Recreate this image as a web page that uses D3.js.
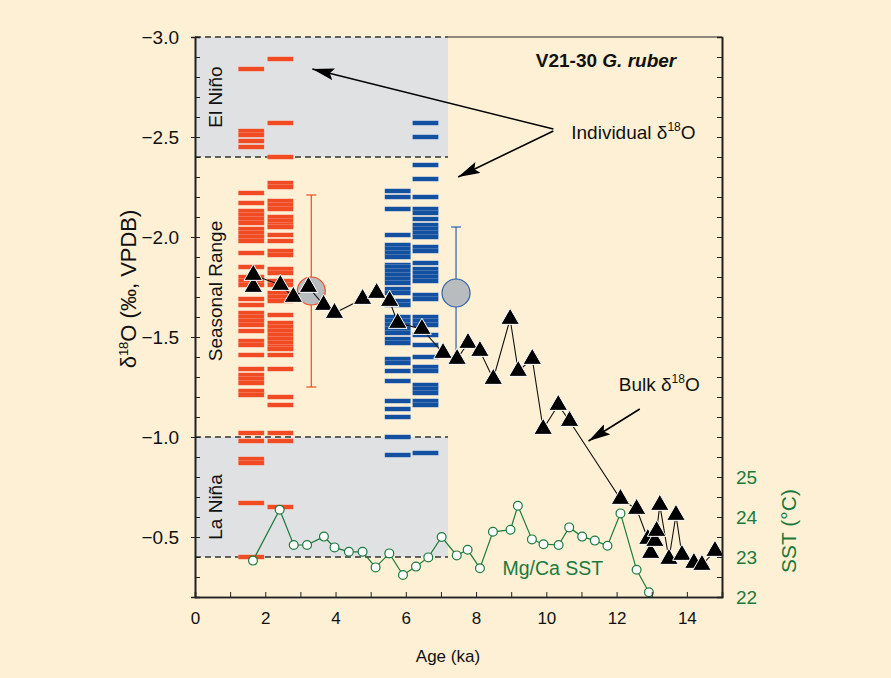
<!DOCTYPE html>
<html>
<head>
<meta charset="utf-8">
<script src="https://cdn.jsdelivr.net/npm/d3@7"></script>
<style>
  body { margin: 0; background: #fef0d4; }
  text { font-family: "Liberation Sans", Arial, sans-serif; }
</style>
</head>
<body>
<div id="chart"></div>
<script>
// Chart data
// Individual foram d18O values, one array per sample column
var redColA = [-2.84, -2.53, -2.51, -2.48, -2.45, -2.22, -2.17, -2.13, -2.11, -2.09, -2.07,
  -2.04, -2.02, -2.00, -1.98, -1.92, -1.85, -1.80, -1.78, -1.76, -1.69, -1.66, -1.62, -1.60,
  -1.58, -1.56, -1.53, -1.48, -1.46, -1.41, -1.34, -1.31, -1.29, -1.27, -1.23, -1.21, -1.02,
  -0.98, -0.89, -0.87, -0.67, -0.40];
var redColB = [-2.89, -2.57, -2.40, -2.27, -2.25, -2.18, -2.16, -2.14, -2.10, -2.08, -2.06,
  -2.05, -2.01, -1.98, -1.93, -1.91, -1.84, -1.82, -1.78, -1.76, -1.72, -1.70, -1.68, -1.61,
  -1.57, -1.55, -1.53, -1.51, -1.49, -1.47, -1.45, -1.44, -1.41, -1.34, -1.20, -1.16, -1.02,
  -0.98, -0.65];
var blueColA = [-2.23, -2.20, -2.14, -2.01, -1.96, -1.94, -1.92, -1.90, -1.86, -1.85, -1.83,
  -1.81, -1.79, -1.77, -1.74, -1.72, -1.68, -1.66, -1.60, -1.58, -1.56, -1.54, -1.52, -1.49,
  -1.47, -1.39, -1.37, -1.33, -1.28, -1.18, -1.14, -1.10, -1.00, -0.91];
var blueColB = [-2.57, -2.50, -2.36, -2.29, -2.20, -2.14, -2.12, -2.09, -2.06, -2.04, -2.02,
  -2.00, -1.95, -1.93, -1.87, -1.84, -1.82, -1.80, -1.78, -1.71, -1.69, -1.60, -1.58, -1.56,
  -1.51, -1.46, -1.40, -1.35, -1.33, -1.26, -1.24, -1.22, -1.18, -1.16, -0.92];
// sample ages (ka) of the four individual columns
var colAges = [1.6, 2.43, 5.77, 6.56];

// mean +/- range of individual values
var errAges = [3.31, 7.43];
var errMeans = [-1.73, -1.72];
var errLow = [-2.21, -2.05];
var errHigh = [-1.25, -1.38];

// Bulk d18O
var bulkAge = [1.66, 1.66, 2.43, 2.80, 3.23, 3.66, 3.97, 4.77, 5.17, 5.54, 5.77, 6.46, 7.06,
  7.46, 7.77, 8.11, 8.49, 8.97, 9.20, 9.60, 9.91, 10.34, 10.66, 12.11, 12.57, 12.89, 12.97,
  13.09, 13.14, 13.23, 13.49, 13.69, 13.86, 14.20, 14.43, 14.80];
var bulkD18O = [-1.75, -1.81, -1.76, -1.70, -1.75, -1.66, -1.62, -1.69, -1.72, -1.68, -1.57,
  -1.54, -1.42, -1.39, -1.47, -1.43, -1.29, -1.59, -1.33, -1.39, -1.04, -1.16, -1.08, -0.69,
  -0.64, -0.49, -0.42, -0.48, -0.53, -0.66, -0.39, -0.61, -0.41, -0.37, -0.36, -0.43];

// Mg/Ca SST
var sstAge = [1.65, 2.41, 2.81, 3.19, 3.67, 3.97, 4.38, 4.77, 5.14, 5.53, 5.92, 6.29, 6.64,
  7.02, 7.45, 7.76, 8.11, 8.48, 8.98, 9.19, 9.59, 9.92, 10.35, 10.65, 11.02, 11.38, 11.74,
  12.11, 12.57, 12.92];
var sstVal = [22.91, 24.18, 23.30, 23.30, 23.51, 23.24, 23.13, 23.13, 22.74, 23.09, 22.55,
  22.76, 22.99, 23.50, 23.04, 23.18, 22.72, 23.63, 23.68, 24.28, 23.44, 23.32, 23.30, 23.74,
  23.51, 23.41, 23.28, 24.09, 22.68, 22.12];

var xTicks = [0, 2, 4, 6, 8, 10, 12, 14];
var yTicks = [-3.0, -2.5, -2.0, -1.5, -1.0, -0.5];
var sstTicks = [22, 23, 24, 25];

// ENSO bands
var elNino = [-3.0, -2.4];
var laNina = [-1.0, -0.4];
var bandEnd = 7.2;

// SVG area
var svgWidth = 891;
var svgHeight = 678;
var margin = { top: 37, right: 169, bottom: 81, left: 195 };
var width = svgWidth - margin.left - margin.right;
var height = svgHeight - margin.top - margin.bottom;

var red = "#f04b22";
var blue = "#1450a0";
var green = "#1b7a3c";

var svg = d3.select("#chart").append("svg")
  .attr("width", svgWidth)
  .attr("height", svgHeight);

svg.append("rect")
  .attr("width", svgWidth).attr("height", svgHeight)
  .attr("fill", "#fef0d4");

var defs = svg.append("defs");
defs.append("marker")
  .attr("id", "head")
  .attr("viewBox", "0 0 22 12")
  .attr("refX", 22).attr("refY", 6)
  .attr("markerWidth", 22).attr("markerHeight", 12)
  .attr("markerUnits", "userSpaceOnUse")
  .attr("orient", "auto")
  .append("path")
  .attr("d", "M0,0 L22,6 L0,12 L4,6 Z")
  .attr("fill", "#000");

var g = svg.append("g")
  .attr("transform", `translate(${margin.left}, ${margin.top})`);

var x = d3.scaleLinear().domain([0, 15]).range([0, width]);
var y = d3.scaleLinear().domain([-3.0, -0.2]).range([0, height]);
var ySst = d3.scaleLinear().domain([22, 36]).range([height, 0]);

// grey ENSO bands
[elNino, laNina].forEach(function(b) {
  g.append("rect")
    .attr("x", x(0)).attr("y", y(b[0]))
    .attr("width", x(bandEnd) - x(0))
    .attr("height", y(b[1]) - y(b[0]))
    .attr("fill", "#dfe1e2");
});

// dashed band edges
[-3.0, -2.4, -1.0, -0.4].forEach(function(v) {
  g.append("line")
    .attr("x1", x(0)).attr("x2", x(bandEnd))
    .attr("y1", y(v)).attr("y2", y(v))
    .attr("stroke", "#333").attr("stroke-width", 1.5)
    .attr("stroke-dasharray", "6,4");
});

// individual d18O dashes
var colWidth = 0.74;
var cols = [
  { age: colAges[0], vals: redColA, color: red },
  { age: colAges[1], vals: redColB, color: red },
  { age: colAges[2], vals: blueColA, color: blue },
  { age: colAges[3], vals: blueColB, color: blue }
];
cols.forEach(function(c) {
  g.append("g").selectAll("rect")
    .data(c.vals)
    .enter()
    .append("rect")
    .attr("x", x(c.age - colWidth / 2))
    .attr("y", d => y(d) - 2.3)
    .attr("width", x(colWidth) - x(0))
    .attr("height", 4.6)
    .attr("fill", c.color)
    .attr("stroke", "rgba(255,255,255,0.35)")
    .attr("stroke-width", 0.6);
});

// error bars with mean circles
var errColors = [red, "#2d62aa"];
errAges.forEach(function(a, i) {
  var eg = g.append("g").attr("stroke", errColors[i]).attr("stroke-width", 1.2);
  eg.append("line")
    .attr("x1", x(a)).attr("x2", x(a))
    .attr("y1", y(errLow[i])).attr("y2", y(errHigh[i]));
  [errLow[i], errHigh[i]].forEach(function(v) {
    eg.append("line")
      .attr("x1", x(a) - 5).attr("x2", x(a) + 5)
      .attr("y1", y(v)).attr("y2", y(v));
  });
  eg.append("circle")
    .attr("cx", x(a)).attr("cy", y(errMeans[i]))
    .attr("r", 14)
    .attr("fill", "#b8bcbf");
});

// bulk d18O line + triangles
var bulk = bulkAge.map((a, i) => ({ age: a, v: bulkD18O[i] }));
g.append("path")
  .datum(bulk)
  .attr("fill", "none")
  .attr("stroke", "#111")
  .attr("stroke-width", 1.1)
  .attr("d", d3.line().x(d => x(d.age)).y(d => y(d.v)));
g.selectAll(".tri")
  .data(bulk)
  .enter()
  .append("path")
  .attr("class", "tri")
  .attr("transform", d => `translate(${x(d.age)}, ${y(d.v)})`)
  .attr("d", d3.symbol().type(d3.symbolTriangle).size(150))
  .attr("fill", "#000")
  .attr("stroke", "#fff")
  .attr("stroke-width", 1);

// SST line + open circles
var sst = sstAge.map((a, i) => ({ age: a, v: sstVal[i] }));
g.append("path")
  .datum(sst)
  .attr("fill", "none")
  .attr("stroke", green)
  .attr("stroke-width", 1.2)
  .attr("d", d3.line().x(d => x(d.age)).y(d => ySst(d.v)));
g.selectAll(".sst")
  .data(sst)
  .enter()
  .append("circle")
  .attr("class", "sst")
  .attr("cx", d => x(d.age))
  .attr("cy", d => ySst(d.v))
  .attr("r", 4.4)
  .attr("fill", "#fff")
  .attr("stroke", green)
  .attr("stroke-width", 1.2);

// axes
var minorY = d3.range(-3.0, -0.15, 0.1);
var leftMinor = d3.axisLeft(y).tickValues(minorY).tickSize(-5).tickFormat("");
g.append("g").call(leftMinor);
var leftAxis = d3.axisLeft(y).tickValues(yTicks).tickSize(4).tickPadding(12)
  .tickFormat(d3.format(".1f"));
g.append("g").attr("class", "yaxis").call(leftAxis);

var rightAxis = d3.axisRight(y).tickValues(minorY).tickSize(-5).tickFormat("");
g.append("g").attr("transform", `translate(${width}, 0)`).call(rightAxis);

var sstAxis = d3.axisRight(ySst).tickValues(sstTicks).tickSize(0).tickPadding(14)
  .tickFormat(d3.format("d"));
g.append("g").attr("class", "sstaxis").attr("transform", `translate(${width}, 0)`).call(sstAxis);

var bottomMinor = d3.axisBottom(x).tickValues(d3.range(0, 16, 1)).tickSize(-5).tickFormat("");
g.append("g").attr("transform", `translate(0, ${height})`).call(bottomMinor);
var bottomAxis = d3.axisBottom(x).tickValues(xTicks).tickSize(0).tickPadding(15);
g.append("g").attr("class", "xaxis").attr("transform", `translate(0, ${height})`).call(bottomAxis);

g.selectAll(".domain").attr("stroke", "#222").attr("stroke-width", 1.6);
g.selectAll(".tick line").attr("stroke", "#222").attr("stroke-width", 1);
g.selectAll(".yaxis text")
  .attr("font-size", 19).attr("fill", "#111")
  .attr("font-family", "Liberation Sans, Arial, sans-serif");
g.selectAll(".xaxis text")
  .attr("font-size", 17).attr("fill", "#111")
  .attr("font-family", "Liberation Sans, Arial, sans-serif");
g.selectAll(".sstaxis text")
  .attr("font-size", 19).attr("fill", green)
  .attr("font-family", "Liberation Sans, Arial, sans-serif");

// top frame
g.append("line")
  .attr("x1", x(bandEnd)).attr("x2", width)
  .attr("y1", 0).attr("y2", 0)
  .attr("stroke", "#222").attr("stroke-width", 1.2);

// axis titles
var yTitle = g.append("text")
  .attr("transform", `translate(-59, ${y(-1.74)}) rotate(-90)`)
  .attr("text-anchor", "middle")
  .attr("font-size", 22).attr("fill", "#111");
yTitle.append("tspan").text("\u03b4");
yTitle.append("tspan").text("18").attr("font-size", 13).attr("dy", -8);
yTitle.append("tspan").text("O  (\u2030, VPDB)").attr("dy", 8);

g.append("text")
  .attr("x", x(7.2)).attr("y", height + 65)
  .attr("text-anchor", "middle")
  .attr("font-size", 17).attr("fill", "#111")
  .text("Age (ka)");

g.append("text")
  .attr("transform", `translate(${width + 74}, ${ySst(23.65)}) rotate(-90)`)
  .attr("text-anchor", "middle")
  .attr("font-size", 21).attr("fill", green)
  .text("SST (\u00b0C)");

// band labels
[["El Ni\u00f1o", -2.7], ["Seasonal Range", -1.73], ["La Ni\u00f1a", -0.65]].forEach(function(l) {
  g.append("text")
    .attr("transform", `translate(${x(0.78)}, ${y(l[1])}) rotate(-90)`)
    .attr("text-anchor", "middle")
    .attr("font-size", 19).attr("fill", "#111")
    .text(l[0]);
});

// title
var title = g.append("text")
  .attr("x", x(9.7)).attr("y", y(-2.85))
  .attr("font-size", 19).attr("font-weight", "bold").attr("fill", "#111");
title.append("tspan").text("V21-30 ");
title.append("tspan").text("G. ruber").attr("font-style", "italic");

// annotations
function d18oLabel(xv, yv, prefix) {
  var t = g.append("text")
    .attr("x", x(xv)).attr("y", y(yv))
    .attr("font-size", 19).attr("fill", "#111");
  t.append("tspan").text(prefix + "\u03b4");
  t.append("tspan").text("18").attr("font-size", 12).attr("dy", -8);
  t.append("tspan").text("O").attr("dy", 8);
}
d18oLabel(10.71, -2.49, "Individual ");
d18oLabel(12.06, -1.23, "Bulk ");

function arrow(x1, y1, x2, y2) {
  g.append("line")
    .attr("x1", x(x1)).attr("y1", y(y1))
    .attr("x2", x(x2)).attr("y2", y(y2))
    .attr("stroke", "#000").attr("stroke-width", 1.6)
    .attr("marker-end", "url(#head)");
}
arrow(10.2, -2.54, 3.34, -2.84);
arrow(10.2, -2.53, 7.49, -2.30);
arrow(12.66, -1.14, 11.2, -0.98);

g.append("text")
  .attr("x", x(8.75)).attr("y", y(-0.31))
  .attr("font-size", 19.5).attr("fill", green)
  .text("Mg/Ca SST");
</script>
</body>
</html>
